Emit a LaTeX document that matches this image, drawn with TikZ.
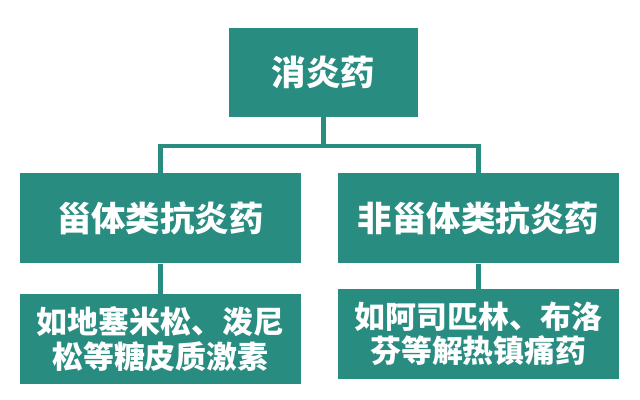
\documentclass[tikz,border=0pt]{standalone}
\usepackage{fontspec}
\newfontfamily\cjk{Noto Sans CJK SC}
\usetikzlibrary{positioning}
\definecolor{drugteal}{RGB}{40,140,128}

\begin{document}
\begin{tikzpicture}[node distance=1.4cm,
        block/.style={rectangle, fill=drugteal, text=white, minimum width=7.025cm, minimum height=2.25cm, inner sep=0pt, font=\cjk\bfseries\fontsize{24.5}{28}\selectfont},
        note/.style={block, align=center, font=\cjk\bfseries\fontsize{22}{24.8}\selectfont},
        link/.style={draw=drugteal, line width=3pt}
    ]
        \useasboundingbox (0,0) rectangle (16,10);
        \node[block, minimum width=4.725cm, minimum height=2.225cm] (root) at (8.09,8.19) {消炎药};
        \node[block, below=1.4cm of root, xshift=-4.08cm] (steroid) {甾体类抗炎药};
        \node[block, below=1.4cm of root, xshift=3.87cm] (nonsteroid) {非甾体类抗炎药};
        \node[note, below=0.75cm of steroid] (steroidex) {如地塞米松、泼尼\\松等糖皮质激素};
        \node[note, below=0.62cm of nonsteroid] (nonsteroidex) {如阿司匹林、布洛\\芬等解热镇痛药};

        \coordinate[below=0.72cm of root.south] (split);
        \draw[link] (root.south) -- (split);
        \draw[link] (split) -| (steroid.north);
        \draw[link] (split) -| (nonsteroid.north);
        \draw[link] (steroid) -- (steroidex);
        \draw[link] (nonsteroid) -- (nonsteroidex);
    \end{tikzpicture}
\end{document}
